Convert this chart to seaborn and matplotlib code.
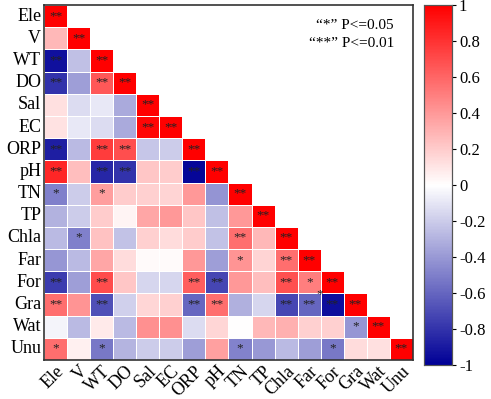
import numpy as np
import pandas as pd
import matplotlib
matplotlib.use("Agg")
import matplotlib.pyplot as plt
from matplotlib.colors import LinearSegmentedColormap
import seaborn as sns

# variables (rows and columns of the matrix)
variables = ["Ele", "V", "WT", "DO", "Sal", "EC", "ORP", "pH", "TN", "TP",
             "Chla", "Far", "For", "Gra", "Wat", "Unu"]

# lower triangle of correlation coefficients, row by row
lower_r = [
    [1.00],
    [0.28, 1.00],
    [-0.93, -0.25, 1.00],
    [-0.80, -0.38, 0.65, 1.00],
    [0.12, -0.14, -0.09, -0.33, 1.00],
    [0.11, -0.09, -0.14, -0.33, 0.97, 1.00],
    [-0.88, -0.27, 0.76, 0.69, -0.22, -0.20, 1.00],
    [0.85, 0.25, -0.85, -0.80, 0.22, 0.20, -0.97, 1.00],
    [-0.50, -0.20, 0.38, 0.20, 0.18, 0.17, 0.40, -0.42, 1.00],
    [-0.30, -0.20, 0.20, 0.04, 0.35, 0.40, 0.22, -0.25, 0.40, 1.00],
    [-0.27, -0.50, 0.24, -0.24, 0.18, 0.14, 0.20, -0.24, 0.57, 0.28, 1.00],
    [-0.41, -0.27, 0.35, 0.14, 0.02, 0.02, 0.40, -0.38, 0.42, 0.17, 0.57, 1.00],
    [-0.76, -0.38, 0.70, 0.22, -0.16, -0.16, 0.63, -0.72, 0.40, 0.25, 0.68, 0.50, 1.00],
    [0.57, 0.42, -0.68, -0.18, 0.16, 0.18, -0.60, 0.57, -0.31, -0.16, -0.72, -0.60, -0.94, 1.00],
    [-0.04, -0.27, 0.08, -0.27, 0.43, 0.43, -0.14, 0.16, 0.00, 0.28, 0.31, 0.18, 0.18, -0.41, 1.00],
    [0.57, 0.06, -0.53, -0.29, -0.20, -0.20, -0.38, 0.37, -0.49, -0.40, -0.27, -0.38, -0.53, 0.14, 0.12, 1.00],
]

# significance level per cell: 0 = none, 1 = "*", 2 = "**"
lower_sig = [
    [2],
    [0, 2],
    [2, 0, 2],
    [2, 0, 2, 2],
    [0, 0, 0, 0, 2],
    [0, 0, 0, 0, 2, 2],
    [2, 0, 2, 2, 0, 0, 2],
    [2, 0, 2, 2, 0, 0, 2, 2],
    [1, 0, 1, 0, 0, 0, 0, 0, 2],
    [0, 0, 0, 0, 0, 0, 0, 0, 0, 2],
    [0, 1, 0, 0, 0, 0, 0, 0, 2, 0, 2],
    [0, 0, 0, 0, 0, 0, 0, 0, 1, 0, 2, 2],
    [2, 0, 2, 0, 0, 0, 2, 2, 0, 0, 2, 1, 2],
    [2, 0, 2, 0, 0, 0, 2, 2, 0, 0, 2, 2, 2, 2],
    [0, 0, 0, 0, 0, 0, 0, 0, 0, 0, 0, 0, 0, 1, 2],
    [1, 0, 1, 0, 0, 0, 0, 0, 1, 0, 0, 0, 1, 0, 0, 2],
]

cbar_ticks = [1, 0.8, 0.6, 0.4, 0.2, 0, -0.2, -0.4, -0.6, -0.8, -1]

# build full matrices
n = len(variables)
mat = np.full((n, n), np.nan)
stars = np.full((n, n), "", dtype=object)
for i, row in enumerate(lower_r):
    for j, v in enumerate(row):
        mat[i, j] = v
        stars[i, j] = "*" * lower_sig[i][j]
df = pd.DataFrame(mat, index=variables, columns=variables)
mask = np.triu(np.ones((n, n), dtype=bool), k=1)

plt.rcParams["font.family"] = ["Liberation Serif", "DejaVu Serif"]
cmap = LinearSegmentedColormap.from_list("bwr_custom", ["#000096", "#ffffff", "#ff0000"])

fig = plt.figure(figsize=(4.91, 3.99), dpi=100)
ax = fig.add_axes([0.0896, 0.0977, 0.7515, 0.8897])
cax = fig.add_axes([0.8635, 0.085, 0.057, 0.902])

sns.heatmap(df, mask=mask, cmap=cmap, vmin=-1, vmax=1, ax=ax, cbar_ax=cax,
            linewidths=0.6, linecolor="white",
            annot=stars, fmt="", annot_kws={"fontsize": 9.5, "color": "#222222", "va": "top"},
            cbar_kws={"ticks": cbar_ticks})

# shift star labels down a bit (serif asterisks sit high)
for t in ax.texts:
    x, y = t.get_position()
    t.set_position((x, y - 0.28))

# stray star in the original figure
ax.text(11.97, 12.75, "*", fontsize=9.5, color="#222222", ha="center", va="top")

ax.set_xlabel("")
ax.set_ylabel("")
ax.tick_params(axis="both", length=0, labelsize=13, pad=2)
ax.set_yticklabels(variables, rotation=0)
ax.set_xticklabels(variables, rotation=45, ha="right", rotation_mode="anchor")
for s in ax.spines.values():
    s.set_visible(True)
    s.set_color("#333333")
    s.set_linewidth(1.2)

ax.text(0.948, 0.941, "\u201c*\u201d P<=0.05", transform=ax.transAxes, ha="right", va="center", fontsize=11)
ax.text(0.948, 0.893, "\u201c**\u201d P<=0.01", transform=ax.transAxes, ha="right", va="center", fontsize=11)

cax.tick_params(labelsize=12, length=3, width=0.8, pad=2)
cax.set_yticklabels(["1", "0.8", "0.6", "0.4", "0.2", "0", "-0.2", "-0.4", "-0.6", "-0.8", "-1"])
for s in cax.spines.values():
    s.set_visible(True)
    s.set_color("#555555")
    s.set_linewidth(0.8)

fig.savefig("out.png", dpi=100)
